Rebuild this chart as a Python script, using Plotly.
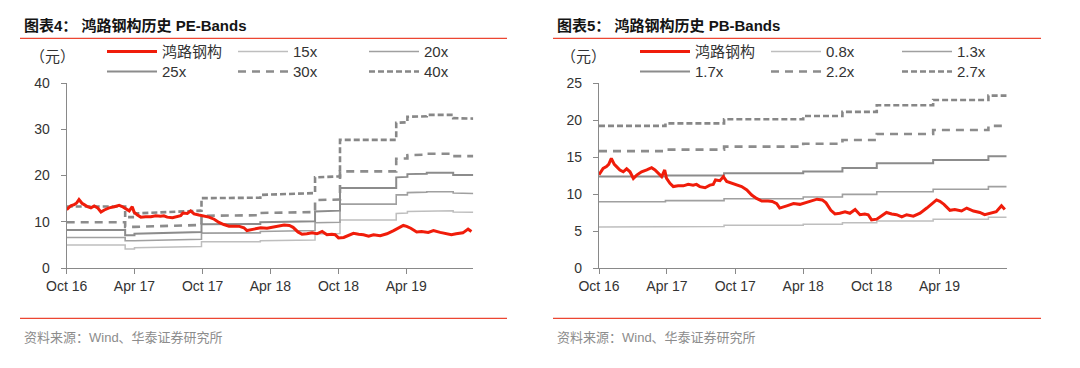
import plotly.graph_objects as go

# ---------------- data ----------------
price_dates = [
    '2016-10-01', '2016-10-12', '2016-10-21', '2016-10-27', '2016-11-03', '2016-11-11',
    '2016-11-17', '2016-11-26', '2016-12-05', '2016-12-14', '2016-12-23', '2017-01-01',
    '2017-01-10', '2017-01-23', '2017-02-06', '2017-02-19', '2017-02-28', '2017-03-09',
    '2017-03-18', '2017-03-26', '2017-03-31', '2017-04-09', '2017-04-18', '2017-05-01',
    '2017-05-15', '2017-05-28', '2017-06-10', '2017-06-19', '2017-06-28', '2017-07-12',
    '2017-07-25', '2017-08-03', '2017-08-09', '2017-08-21', '2017-08-30', '2017-09-08',
    '2017-09-21', '2017-10-04', '2017-10-18', '2017-11-01', '2017-11-14', '2017-11-27',
    '2017-12-11', '2017-12-28', '2018-01-08', '2018-01-20', '2018-01-28', '2018-02-16',
    '2018-03-06', '2018-03-23', '2018-04-12', '2018-04-26', '2018-05-08', '2018-05-22',
    '2018-06-01', '2018-06-14', '2018-06-25', '2018-07-08', '2018-07-22', '2018-08-04',
    '2018-08-18', '2018-08-31', '2018-09-13', '2018-09-22', '2018-10-01', '2018-10-15',
    '2018-10-24', '2018-11-10', '2018-11-24', '2018-12-07', '2018-12-21', '2019-01-03',
    '2019-01-21', '2019-02-08', '2019-02-26', '2019-03-11', '2019-03-24', '2019-04-02',
    '2019-04-13', '2019-04-29', '2019-05-12', '2019-05-30', '2019-06-13', '2019-07-01',
    '2019-07-18', '2019-07-31', '2019-08-13', '2019-08-31', '2019-09-14', '2019-09-23',
]
price = [
    12.6, 13.45, 13.7, 14.0, 14.8, 14.0,
    13.7, 13.25, 13.0, 13.4, 13.0, 12.1,
    12.55, 13.0, 13.25, 13.55, 13.25, 12.8,
    12.35, 13.25, 12.1, 11.45, 11.0, 11.1,
    11.1, 11.3, 11.2, 11.3, 11.0, 10.85,
    11.2, 11.3, 11.9, 11.8, 12.35, 11.7,
    11.45, 11.2, 11.0, 10.55, 9.85, 9.4,
    9.05, 9.05, 9.0, 8.7, 8.1, 8.4,
    8.7, 8.6, 8.9, 9.1, 9.3, 9.2,
    8.8, 7.8, 7.3, 7.4, 7.6, 7.4,
    7.9, 7.2, 7.3, 7.2, 6.5, 6.6,
    6.9, 7.5, 7.3, 7.2, 6.9, 7.2,
    7.0, 7.4, 8.1, 8.6, 9.2, 9.0,
    8.6, 7.8, 7.9, 7.7, 8.1, 7.7,
    7.5, 7.2, 7.4, 7.6, 8.4, 7.9,
]

pe_dates = [
    '2016-10-01', '2017-03-07', '2017-03-07', '2017-04-01', '2017-04-01', '2017-09-28',
    '2017-09-28', '2018-03-05', '2018-03-05', '2018-07-30', '2018-07-30', '2018-10-05',
    '2018-10-05', '2019-03-05', '2019-03-05', '2019-04-04', '2019-04-04', '2019-05-26',
    '2019-05-26', '2019-08-05', '2019-08-05', '2019-09-28',
]
pe_15x = [4.95, 4.95, 4.1, 4.1, 4.4, 4.65, 5.65, 5.7, 5.9, 6.05, 7.35,
          7.45, 10.4, 10.4, 11.8, 11.9, 12.2, 12.3, 12.4, 12.4, 12.1, 12.05]
pe_20x = [6.6, 6.6, 5.9, 5.9, 5.9, 6.2, 7.55, 7.6, 7.9, 8.1, 9.8,
          9.9, 13.8, 13.8, 15.8, 15.8, 16.3, 16.4, 16.5, 16.5, 16.2, 16.1]
pe_25x = [8.2, 8.2, 7.1, 7.1, 7.4, 7.8, 9.45, 9.5, 9.9, 10.1, 12.2,
          12.4, 17.3, 17.3, 19.6, 19.7, 20.3, 20.4, 20.6, 20.6, 20.1, 20.1]
pe_30x = [9.9, 9.9, 8.9, 8.9, 8.9, 9.3, 11.3, 11.4, 11.9, 12.1, 14.7,
          14.8, 20.9, 20.9, 23.6, 23.7, 24.4, 24.5, 24.7, 24.7, 24.2, 24.2]
pe_40x = [13.3, 13.3, 11.0, 11.0, 11.8, 12.4, 15.1, 15.2, 15.8, 16.2, 19.6,
          19.8, 27.7, 27.7, 31.4, 31.5, 32.7, 32.8, 33.1, 33.1, 32.4, 32.3]

pb_dates = [
    '2016-10-01', '2017-03-28', '2017-03-28', '2017-09-01', '2017-09-01', '2018-04-01',
    '2018-04-01', '2018-07-15', '2018-07-15', '2018-10-15', '2018-10-15', '2019-03-15',
    '2019-03-15', '2019-08-10', '2019-08-10', '2019-09-28',
]
pb_08x = [5.55, 5.55, 5.62, 5.62, 5.78, 5.78, 5.92, 5.92, 6.1, 6.1, 6.35, 6.35, 6.6, 6.6, 6.85, 6.85]
pb_13x = [8.95, 8.95, 9.1, 9.1, 9.35, 9.35, 9.6, 9.6, 9.95, 9.95, 10.3, 10.3, 10.65, 10.65, 11.0, 11.0]
pb_17x = [12.35, 12.35, 12.5, 12.5, 12.8, 12.8, 13.05, 13.05, 13.5, 13.5, 14.15, 14.15, 14.6, 14.6, 15.1, 15.1]
pb_22x = [15.8, 15.8, 16.0, 16.0, 16.4, 16.4, 16.8, 16.8, 17.3, 17.3, 18.1, 18.1, 18.65, 18.65, 19.2, 19.2]
pb_27x = [19.2, 19.2, 19.55, 19.55, 20.1, 20.1, 20.55, 20.55, 21.1, 21.1, 22.0, 22.0, 22.7, 22.7, 23.3, 23.3]

tick_vals = ['2016-10-01', '2017-04-01', '2017-10-01', '2018-04-01', '2018-10-01', '2019-04-01']
tick_text = ['Oct 16', 'Apr 17', 'Oct 17', 'Apr 18', 'Oct 18', 'Apr 19']
x_range = ['2016-10-01', '2019-09-28']

# ---------------- styling ----------------
W, H = 1080, 368
FONT = 'Liberation Sans, Arial, Noto Sans CJK SC, sans-serif'
RED = 'rgb(240,28,10)'
RULE = 'rgb(236,70,50)'
AXIS = 'rgb(137,137,137)'
TXT = 'rgb(51,51,51)'


def px(x):
    return x / W


def py(y):
    return 1 - y / H


fig = go.Figure()

band_styles = [
    dict(color='rgb(190,190,190)', width=1.5, dash='solid'),
    dict(color='rgb(160,160,160)', width=1.6, dash='solid'),
    dict(color='rgb(140,140,140)', width=2.0, dash='solid'),
    dict(color='rgb(140,140,140)', width=2.6, dash='8px,6px'),
    dict(color='rgb(135,135,135)', width=2.6, dash='6px,3px'),
]

pe_bands = [('15x', pe_15x), ('20x', pe_20x), ('25x', pe_25x), ('30x', pe_30x), ('40x', pe_40x)]
pb_bands = [('0.8x', pb_08x), ('1.3x', pb_13x), ('1.7x', pb_17x), ('2.2x', pb_22x), ('2.7x', pb_27x)]
row_of = ['legend', 'legend', 'legend2', 'legend2', 'legend2']
row_of_r = ['legend3', 'legend3', 'legend4', 'legend4', 'legend4']

for i, (name, vals) in enumerate(pe_bands):
    fig.add_trace(go.Scatter(x=pe_dates, y=vals, name=name, mode='lines',
                             line=band_styles[i], xaxis='x', yaxis='y',
                             legend=row_of[i], legendrank=i + 2, hoverinfo='skip'))
fig.add_trace(go.Scatter(x=price_dates, y=price, name='鸿路钢构', mode='lines',
                         line=dict(color=RED, width=3), xaxis='x', yaxis='y',
                         legend='legend', legendrank=1))

for i, (name, vals) in enumerate(pb_bands):
    fig.add_trace(go.Scatter(x=pb_dates, y=vals, name=name, mode='lines',
                             line=band_styles[i], xaxis='x2', yaxis='y2',
                             legend=row_of_r[i], legendrank=i + 2, hoverinfo='skip'))
fig.add_trace(go.Scatter(x=price_dates, y=price, name='鸿路钢构', mode='lines',
                         line=dict(color=RED, width=3), xaxis='x2', yaxis='y2',
                         legend='legend3', legendrank=1))

ydom = [py(268), py(83)]
xcommon = dict(type='date', range=x_range, tickvals=tick_vals, ticktext=tick_text,
               showline=True, linecolor=AXIS, linewidth=1.3, ticks='outside', ticklen=5,
               tickcolor=AXIS, tickwidth=1, showgrid=False, zeroline=False, automargin=False,
               tickfont=dict(family=FONT, size=14, color=TXT), fixedrange=True)
ycommon = dict(showline=True, linecolor=AXIS, linewidth=1.3, ticks='outside', ticklen=5,
               tickcolor=AXIS, tickwidth=1, showgrid=False, zeroline=False, automargin=False,
               tickfont=dict(family=FONT, size=14, color=TXT), ticklabelstandoff=8,
               fixedrange=True)

legend_common = dict(orientation='h', font=dict(family=FONT, size=15, color=TXT),
                     bgcolor='rgba(0,0,0,0)', borderwidth=0, entrywidthmode='pixels',
                     entrywidth=66, itemwidth=50, xanchor='left', yanchor='middle',
                     tracegroupgap=0, traceorder='normal', itemclick=False, itemdoubleclick=False)

fig.update_layout(
    width=W, height=H, margin=dict(l=0, r=0, t=0, b=0, autoexpand=False),
    paper_bgcolor='white', plot_bgcolor='white', showlegend=True,
    xaxis=dict(domain=[px(66.7), px(473.3)], anchor='y', **xcommon),
    yaxis=dict(domain=ydom, anchor='x', range=[0, 40], tickvals=[0, 10, 20, 30, 40], **ycommon),
    xaxis2=dict(domain=[px(599), px(1006.7)], anchor='y2', **xcommon),
    yaxis2=dict(domain=ydom, anchor='x2', range=[0, 25], tickvals=[0, 5, 10, 15, 20, 25], **ycommon),
    legend=dict(x=px(102), y=py(51.7), **legend_common),
    legend2=dict(x=px(102), y=py(71.7), **legend_common),
    legend3=dict(x=px(635), y=py(51.7), **legend_common),
    legend4=dict(x=px(635), y=py(71.7), **legend_common),
)

# titles, units, sources and red rules
for x0, x1, tx, title in [(20, 507, 22, '图表4： 鸿路钢构历史 PE-Bands'),
                          (553, 1041, 555, '图表5： 鸿路钢构历史 PB-Bands')]:
    fig.add_annotation(x=px(tx), y=py(26), xref='paper', yref='paper', xanchor='left',
                       yanchor='middle', showarrow=False, text='<b>' + title + '</b>',
                       font=dict(family=FONT, size=15, color='rgb(20,20,20)'))
    fig.add_annotation(x=px(tx), y=py(337), xref='paper', yref='paper', xanchor='left',
                       yanchor='middle', showarrow=False, text='资料来源：Wind、华泰证券研究所',
                       font=dict(family=FONT, size=13, color='rgb(140,140,140)'))
    for yy in (38.3, 318.3):
        fig.add_shape(type='line', xref='paper', yref='paper', x0=px(x0), x1=px(x1),
                      y0=py(yy), y1=py(yy), line=dict(color=RULE, width=1.3))

for cx in (52, 583):
    fig.add_annotation(x=px(cx), y=py(57), xref='paper', yref='paper', xanchor='center',
                       yanchor='middle', showarrow=False, text='（元）',
                       font=dict(family=FONT, size=15, color=TXT))

fig.write_html('out.html', include_plotlyjs=True, config={'displayModeBar': False})
